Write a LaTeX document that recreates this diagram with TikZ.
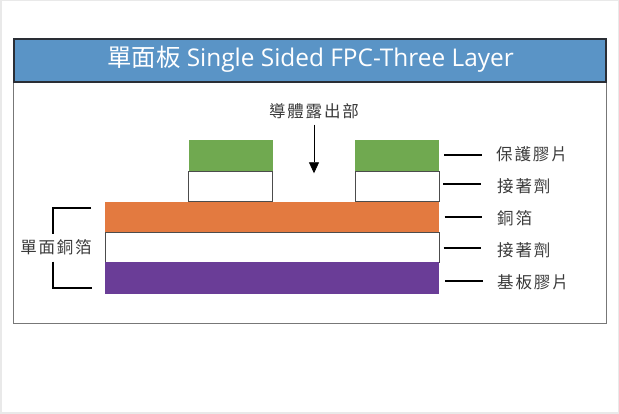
\documentclass[tikz,border=0pt]{standalone}
\usepackage{fontspec}
\setmainfont{Open Sans}
\newfontfamily\cjk{Noto Sans CJK TC}
\newfontfamily\cjklabel[LetterSpace=11]{Noto Sans CJK TC}
\usetikzlibrary{arrows.meta}
\definecolor{pagegrey}{HTML}{E9E9E9}
\definecolor{titleblue}{HTML}{5A94C6}
\definecolor{titleline}{HTML}{2A2E35}
\definecolor{framegrey}{HTML}{777777}
\definecolor{covergreen}{HTML}{70A950}
\definecolor{copperorange}{HTML}{E37A40}
\definecolor{basepurple}{HTML}{6A3D97}
\definecolor{labelgrey}{HTML}{3A3A3A}
\tikzset{layer/.style = {rectangle, inner sep = 0, outer sep = 0, anchor = north west}}
\tikzset{glue/.style = {layer, draw = black!70, line width = 0.8, fill = white}}
\tikzset{partname/.style = {font = \cjklabel\fontsize{16.5}{18}\selectfont, text = labelgrey, inner sep = 0}}
\tikzset{tick/.style = {draw = black, line width = 1.8}}

\begin{document}
\begin{tikzpicture}[x=1pt, y=-1pt]
    \useasboundingbox (0, 0) rectangle (619, 414);
    \fill [pagegrey] (0, 0) rectangle (619, 414);
    \fill [white] (2, 1) rectangle (618, 412);

    \node (frame) [layer, draw = framegrey, line width = 1, fill = white, minimum width = 593, minimum height = 285] at (13, 39) {};
    \node (title) [layer, draw = titleline, line width = 1.3, fill = titleblue, minimum width = 592, minimum height = 43] at (14, 39) {};
    \node (titletext) [text = white, inner sep = 0, font = \fontsize{24.4}{27}\selectfont] at (310.5, 59) {{\cjk 單面板} Single Sided FPC-Three Layer};

    \node (coverleft) [layer, fill = covergreen, minimum width = 84, minimum height = 31.5] at (188.5, 140) {};
    \node (coverright) [layer, fill = covergreen, minimum width = 84, minimum height = 31.5] at (355.3, 140) {};
    \node (glueleft) [glue, minimum width = 83.6, minimum height = 30.1] at (188.7, 171.7) {};
    \node (glueright) [glue, minimum width = 83.6, minimum height = 30.1] at (355.5, 171.7) {};
    \node (copper) [layer, fill = copperorange, minimum width = 334.6, minimum height = 30.3] at (104.7, 202) {};
    \node (gluelow) [glue, minimum width = 333.8, minimum height = 29.6] at (105.1, 232.5) {};
    \node (base) [layer, fill = basepurple, minimum width = 334.6, minimum height = 31.4] at (104.7, 262.3) {};

    \node (exposed) [partname, inner ysep = 5] at (314, 111.7) {導體露出部};
    \coordinate (exposedtip) at (314, 173.3);
    \draw [-{Triangle[length=11, width=10]}, line width = 0.8] (exposed.south) -- (exposedtip);

    % labels down the right side
    \node (covername) [partname, anchor = west] at (496, 154) {保護膠片};
    \node (gluename) [partname, anchor = west] at (497, 186) {接著劑};
    \node (coppername) [partname, anchor = west] at (497, 218) {銅箔};
    \node (gluelowname) [partname, anchor = west] at (497, 250.5) {接著劑};
    \node (basename) [partname, anchor = west] at (497, 282.5) {基板膠片};

    \coordinate (covertick) at (444.3, 155);
    \coordinate (gluetick) at (443.3, 184);
    \coordinate (coppertick) at (444.5, 217);
    \coordinate (gluelowtick) at (443.5, 248);
    \coordinate (basetick) at (445, 281);
    \coordinate (covertickend) at (481.7, 155);
    \coordinate (gluetickend) at (481, 184);
    \coordinate (coppertickend) at (482, 217);
    \coordinate (gluelowtickend) at (481, 248);
    \coordinate (basetickend) at (482.7, 281);
    \draw [tick] (covertick) -- (covertickend);
    \draw [tick] (gluetick) -- (gluetickend);
    \draw [tick] (coppertick) -- (coppertickend);
    \draw [tick] (gluelowtick) -- (gluelowtickend);
    \draw [tick] (basetick) -- (basetickend);

    % bracket on the left
    \node (foilname) [partname] at (56, 247.3) {單面銅箔};
    \coordinate (bracketa) at (91, 208);
    \coordinate (bracketb) at (52.7, 208);
    \coordinate (bracketc) at (52.7, 234.3);
    \coordinate (bracketd) at (52.7, 261.7);
    \coordinate (brackete) at (52.7, 288);
    \coordinate (bracketf) at (91.7, 288);
    \draw [tick] (bracketa) -- (bracketb) -- (bracketc);
    \draw [tick] (bracketd) -- (brackete) -- (bracketf);
\end{tikzpicture}
\end{document}
